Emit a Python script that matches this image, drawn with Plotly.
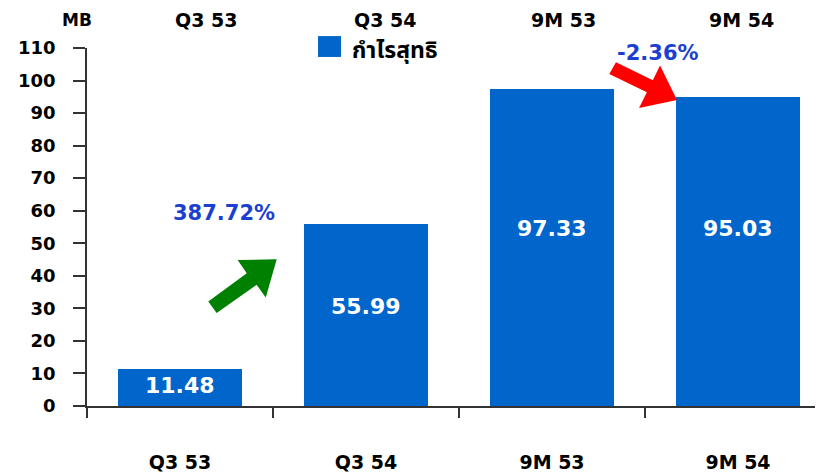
import plotly.graph_objects as go

# ---- data ----
categories = ["Q3 53", "Q3 54", "9M 53", "9M 54"]
net_profit = [11.48, 55.99, 97.33, 95.03]
value_labels = ["11.48", "55.99", "97.33", "95.03"]
series_name = "กำไรสุทธิ"
change_labels = ["387.72%", "-2.36%"]
y_ticks = [0, 10, 20, 30, 40, 50, 60, 70, 80, 90, 100, 110]
unit_label = "MB"

# ---- styling / layout ----
BAR = "#0066CC"
PCT = "#1c3fd1"
FONT = "DejaVu Sans, Noto Sans, Arial, sans-serif"
THAI_FONT = "Noto Sans Thai, Noto Sans, DejaVu Sans, sans-serif"
x_pos = list(range(len(categories)))
label_y = [6.2, 30.6, 54.6, 54.6]
top_label_x = [0.14, 1.10, 2.06, 3.02]

fig = go.Figure()
fig.add_trace(go.Bar(
    x=x_pos, y=net_profit, name=series_name, width=0.667,
    marker=dict(color=BAR, line=dict(width=0)),
    showlegend=False, hoverinfo="y",
))

ann = []
for xi, ly, t in zip(x_pos, label_y, value_labels):
    ann.append(dict(x=xi, y=ly, xref="x", yref="y", text=t, showarrow=False,
                    font=dict(family=FONT, size=22, color="white", weight="bold"),
                    xanchor="center", yanchor="middle"))
for xi, t in zip(top_label_x, categories):
    ann.append(dict(x=xi, y=1.078, xref="x", yref="paper", text=t, showarrow=False,
                    font=dict(family=FONT, size=19, color="black", weight="bold"),
                    xanchor="center", yanchor="middle"))
ann.append(dict(x=0.237, y=59.4, xref="x", yref="y", text=change_labels[0], showarrow=False,
                font=dict(family=FONT, size=21, color=PCT, weight="bold"),
                xanchor="center", yanchor="middle"))
ann.append(dict(x=2.57, y=108.6, xref="x", yref="y", text=change_labels[1], showarrow=False,
                font=dict(family=FONT, size=21, color=PCT, weight="bold"),
                xanchor="center", yanchor="middle"))
ann.append(dict(x=-0.013, y=1.079, xref="paper", yref="paper", text=unit_label, showarrow=False,
                font=dict(family=FONT, size=17, color="black", weight="bold"),
                xanchor="center", yanchor="middle"))
# custom legend text
ann.append(dict(x=0.358, y=0.992, xref="paper", yref="paper", text=series_name, showarrow=False,
                font=dict(family=THAI_FONT, size=23, color="black", weight="bold"),
                xanchor="left", yanchor="middle"))

green = [(0.152, 32.14), (0.197, 28.56), (0.412, 37.22), (0.461, 33.36),
         (0.520, 45.09), (0.310, 44.87), (0.359, 40.80)]
red = [(2.308, 102.0), (2.344, 105.6), (2.542, 100.1), (2.581, 104.6),
       (2.672, 94.06), (2.468, 91.6), (2.510, 96.4)]


def poly(pts):
    a, b, c, d, e, f, g = pts
    seq = [a, g, f, e, d, c, b]
    return "M " + " L ".join(f"{x},{y}" for x, y in seq) + " Z"


shapes = [
    dict(type="path", path=poly(green), xref="x", yref="y",
         fillcolor="#008000", line=dict(width=0)),
    dict(type="path", path=poly(red), xref="x", yref="y",
         fillcolor="#ff0000", line=dict(width=0)),
    dict(type="rect", xref="paper", yref="paper", x0=0.3139, x1=0.3451, y0=0.975, y1=1.0333,
         fillcolor=BAR, line=dict(width=0)),
]

# the page body has an 8px default margin, so the figure is 8px smaller
fig.update_layout(
    width=815, height=465,
    margin=dict(l=79, r=0, t=40, b=65),
    paper_bgcolor="white", plot_bgcolor="white",
    showlegend=False,
    annotations=ann, shapes=shapes,
    bargap=0,
    font=dict(family=FONT, color="black"),
)
fig.update_xaxes(
    range=[-0.5, 3.457], tickvals=x_pos, ticktext=categories,
    ticks="", showgrid=False, zeroline=False,
    showline=True, linecolor="#333333", linewidth=1.5,
    tickfont=dict(family=FONT, size=19, color="black", weight="bold"),
    ticklabelstandoff=38,
    minor=dict(tickvals=[-0.5, 0.5, 1.5, 2.5], ticks="outside", ticklen=10,
               tickcolor="#333333", tickwidth=1.5, showgrid=False),
)
fig.update_yaxes(
    range=[0, 110], tickvals=y_ticks, ticks="outside", ticklen=12,
    tickcolor="#333333", tickwidth=1.5,
    showgrid=False, zeroline=False,
    showline=True, linecolor="#333333", linewidth=1.5,
    tickfont=dict(family=FONT, size=18, color="black", weight="bold"),
    ticklabelstandoff=14,
)

fig.write_html("out.html")
